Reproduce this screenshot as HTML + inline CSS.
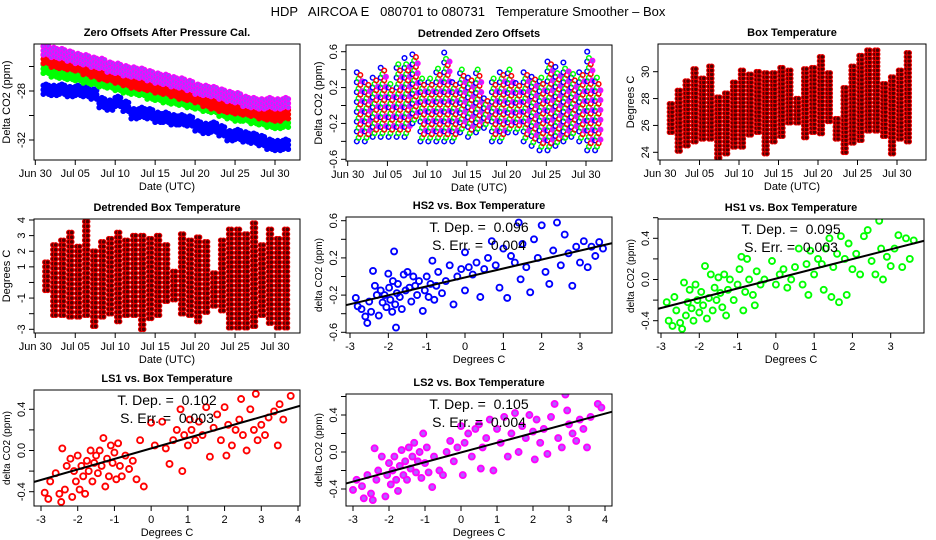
<!DOCTYPE html>
<html><head><meta charset="utf-8"><style>
html,body{margin:0;padding:0;background:#fff;}
svg{display:block;font-family:"Liberation Sans",sans-serif;}
text{white-space:pre;}
</style></head><body>
<svg id="chart" width="936" height="540" viewBox="0 0 936 540" xmlns="http://www.w3.org/2000/svg">
<rect width="936" height="540" fill="#fff"/>
<text x="468" y="16" font-size="13" text-anchor="middle" xml:space="preserve">HDP   AIRCOA E   080701 to 080731   Temperature Smoother – Box</text>
<g id="layer"></g>
</svg>
<script>
// ---------- DATA ----------
const dateTicks = [0,5,10,15,20,25,30];
const dateTickLabels = ["Jun 30","Jul 05","Jul 10","Jul 15","Jul 20","Jul 25","Jul 30"];
const days = [1,2,3,4,5,6,7,8,9,10,11,12,13,14,15,16,17,18,19,20,21,22,23,24,25,26,27,28,29,30,31];

const zeroBlue   = [-27.9,-28.0,-27.9,-28.1,-28.0,-28.1,-28.3,-29.0,-29.2,-28.9,-29.3,-29.9,-29.8,-29.9,-30.2,-30.2,-30.4,-30.4,-30.5,-30.9,-31.1,-31.0,-31.3,-31.7,-31.6,-31.8,-31.9,-32.1,-32.4,-32.5,-32.4];
const zeroGreen  = [-26.2,-26.5,-26.6,-26.7,-26.8,-27.0,-27.1,-27.3,-27.4,-27.6,-27.8,-27.9,-28.0,-28.3,-28.4,-28.6,-28.7,-28.8,-29.0,-29.1,-29.3,-29.4,-29.7,-29.9,-30.1,-30.1,-30.3,-30.4,-30.6,-30.7,-30.6];
const zeroRed    = [-25.4,-25.7,-25.8,-25.9,-26.0,-26.3,-26.5,-26.7,-26.8,-27.0,-27.2,-27.4,-27.5,-27.6,-27.8,-27.9,-28.1,-28.3,-28.4,-28.6,-28.9,-29.1,-29.3,-29.4,-29.5,-29.6,-29.7,-29.9,-30.0,-30.1,-29.9];
const zeroPurple = [-24.7,-24.9,-25.0,-25.2,-25.4,-25.5,-25.7,-25.8,-26.1,-26.2,-26.4,-26.5,-26.6,-26.8,-27.0,-27.1,-27.3,-27.4,-27.6,-27.9,-28.0,-28.1,-28.3,-28.5,-28.6,-28.9,-29.0,-29.1,-29.0,-29.1,-29.0];

const detMin = [-0.4,-0.4,-0.35,-0.35,-0.35,-0.35,-0.35,-0.2,-0.4,-0.4,-0.4,-0.4,-0.4,-0.3,-0.35,-0.3,-0.25,-0.4,-0.4,-0.3,-0.3,-0.4,-0.45,-0.5,-0.5,-0.45,-0.4,-0.35,-0.4,-0.5,-0.5];
const detMax = [0.4,0.3,0.35,0.45,0.3,0.5,0.55,0.6,0.35,0.35,0.45,0.6,0.3,0.45,0.35,0.45,0.15,0.35,0.4,0.45,0.3,0.4,0.35,0.35,0.55,0.45,0.5,0.4,0.4,0.6,0.35];

const boxMin = [25.5,24.1,24.5,24.8,25.0,25.0,23.6,23.9,24.4,24.4,25.3,25.5,23.9,24.8,25.2,26.2,26.2,25.1,25.5,25.4,26.3,25.0,24.0,24.7,24.9,25.6,25.6,25.2,23.9,25.0,24.8];
const boxMax = [27.7,28.8,29.5,30.5,29.6,30.5,28.4,28.7,29.4,30.2,30.0,30.3,30.1,30.0,30.5,30.4,28.2,30.3,30.5,31.2,30.0,26.8,28.9,30.7,31.3,31.8,31.7,29.3,29.8,30.3,31.6];

const dBoxMin = [-0.5,-2.1,-2.1,-2.2,-2.2,-2.1,-2.8,-2.2,-2.0,-2.5,-2.1,-2.1,-3.0,-2.3,-2.1,-1.2,-1.1,-2.0,-2.1,-2.5,-1.9,-1.5,-1.8,-2.9,-2.9,-2.9,-2.8,-2.1,-2.6,-2.9,-2.9];
const dBoxMax = [1.3,2.5,2.9,3.4,2.4,3.9,2.0,2.6,3.0,3.2,2.7,3.1,3.1,2.9,3.0,2.6,0.9,3.2,2.7,3.1,2.6,0.9,2.8,3.5,3.4,3.2,3.8,2.6,3.6,3.0,3.5];

const hs2Pts = [[-2.85,-0.23],[-2.8,-0.32],[-2.7,-0.35],[-2.6,-0.43],[-2.55,-0.5],[-2.5,-0.27],[-2.45,-0.38],[-2.4,0.06],[-2.35,-0.1],[-2.3,-0.2],[-2.25,-0.42],[-2.2,-0.15],[-2.15,-0.28],[-2.1,-0.2],[-2.05,-0.33],[-2.0,0.03],[-1.98,-0.12],[-1.95,-0.25],[-1.9,-0.38],[-1.88,-0.05],[-1.85,0.27],[-1.82,-0.3],[-1.8,-0.55],[-1.78,-0.18],[-1.75,-0.08],[-1.7,-0.22],[-1.65,-0.35],[-1.6,0.02],[-1.55,-0.15],[-1.5,0.05],[-1.45,-0.12],[-1.4,-0.27],[-1.35,0.0],[-1.3,-0.1],[-1.25,-0.2],[-1.2,-0.05],[-1.1,-0.37],[-1.05,-0.15],[-1.0,0.0],[-0.95,-0.22],[-0.9,-0.08],[-0.85,0.17],[-0.8,-0.25],[-0.75,-0.1],[-0.7,0.05],[-0.6,-0.18],[-0.5,-0.05],[-0.4,0.12],[-0.3,-0.3],[-0.2,0.0],[-0.1,0.08],[0.0,0.26],[0.0,-0.15],[0.1,0.1],[0.2,0.02],[0.3,0.15],[0.4,-0.22],[0.5,0.08],[0.6,0.2],[0.7,0.38],[0.8,0.12],[0.9,-0.12],[1.0,0.3],[1.1,-0.23],[1.2,0.22],[1.3,0.15],[1.4,0.58],[1.45,-0.03],[1.5,0.35],[1.6,0.1],[1.7,-0.17],[1.8,0.4],[1.9,0.2],[2.0,0.55],[2.1,0.05],[2.2,-0.08],[2.3,0.28],[2.4,0.58],[2.5,0.12],[2.6,0.45],[2.7,0.25],[2.8,-0.1],[2.9,0.32],[3.0,0.15],[3.1,0.38],[3.2,0.1],[3.3,0.32],[3.4,0.22],[3.5,0.37],[3.6,0.3]];
const hs1Pts = [[-2.85,-0.22],[-2.8,-0.4],[-2.7,-0.45],[-2.65,-0.17],[-2.6,-0.3],[-2.5,-0.42],[-2.45,-0.48],[-2.4,-0.03],[-2.35,-0.35],[-2.3,-0.22],[-2.25,-0.1],[-2.2,-0.28],[-2.15,-0.4],[-2.1,-0.05],[-2.05,-0.2],[-2.0,-0.32],[-1.95,-0.12],[-1.9,-0.25],[-1.85,0.13],[-1.8,-0.38],[-1.75,-0.18],[-1.7,0.05],[-1.65,-0.3],[-1.6,-0.08],[-1.55,-0.2],[-1.5,0.02],[-1.45,-0.13],[-1.4,-0.27],[-1.35,0.05],[-1.3,-0.35],[-1.25,-0.1],[-1.2,0.0],[-1.1,-0.2],[-1.0,-0.05],[-0.95,0.1],[-0.9,0.22],[-0.85,-0.3],[-0.8,-0.12],[-0.75,0.2],[-0.7,0.0],[-0.6,-0.15],[-0.55,-0.25],[-0.5,0.08],[-0.4,-0.05],[-0.3,0.0],[-0.1,0.18],[0.0,-0.05],[0.1,0.05],[0.2,0.1],[0.3,-0.08],[0.4,0.0],[0.5,0.12],[0.6,0.3],[0.7,-0.05],[0.8,0.15],[0.85,-0.15],[0.9,0.28],[1.0,0.05],[1.1,0.2],[1.2,0.15],[1.25,-0.1],[1.3,0.3],[1.4,0.4],[1.45,-0.17],[1.5,0.12],[1.6,0.25],[1.65,-0.22],[1.7,0.42],[1.8,0.2],[1.85,-0.15],[1.9,0.35],[2.0,0.1],[2.1,0.25],[2.2,0.05],[2.3,0.42],[2.4,0.48],[2.5,0.18],[2.6,0.05],[2.7,0.57],[2.75,0.3],[2.8,0.0],[2.9,0.22],[3.0,0.13],[3.1,0.3],[3.2,0.43],[3.3,0.12],[3.4,0.4],[3.5,0.2],[3.6,0.38]];
const ls1Pts = [[-2.9,-0.41],[-2.8,-0.47],[-2.75,-0.3],[-2.6,-0.22],[-2.5,-0.42],[-2.45,-0.5],[-2.42,0.02],[-2.35,-0.38],[-2.3,-0.15],[-2.2,-0.08],[-2.15,-0.45],[-2.1,-0.2],[-2.05,-0.3],[-2.0,-0.05],[-1.95,-0.38],[-1.9,-0.15],[-1.85,-0.25],[-1.8,-0.42],[-1.75,-0.1],[-1.7,-0.2],[-1.65,0.0],[-1.6,-0.3],[-1.55,-0.12],[-1.5,-0.05],[-1.45,-0.22],[-1.4,0.0],[-1.35,-0.15],[-1.3,0.12],[-1.25,-0.35],[-1.2,-0.08],[-1.15,-0.25],[-1.1,0.05],[-1.05,-0.12],[-1.0,-0.02],[-0.95,-0.28],[-0.9,0.07],[-0.85,-0.15],[-0.8,-0.25],[-0.7,-0.05],[-0.6,-0.18],[-0.5,-0.1],[-0.4,-0.28],[-0.3,0.1],[-0.2,-0.35],[0.0,0.27],[0.1,0.05],[0.3,0.28],[0.4,0.02],[0.5,-0.13],[0.6,0.1],[0.7,0.2],[0.8,0.4],[0.85,-0.2],[0.9,0.15],[1.0,0.05],[1.05,0.3],[1.1,0.2],[1.2,0.1],[1.3,0.28],[1.4,0.15],[1.5,0.42],[1.6,-0.06],[1.7,0.22],[1.8,0.35],[1.9,0.1],[2.0,0.42],[2.05,-0.05],[2.1,0.25],[2.2,0.05],[2.3,0.2],[2.4,0.3],[2.45,0.5],[2.5,0.15],[2.6,0.0],[2.7,0.4],[2.8,0.2],[2.85,0.55],[2.9,0.1],[3.0,0.25],[3.1,0.15],[3.2,0.32],[3.35,0.38],[3.45,0.05],[3.5,0.45],[3.6,0.3],[3.8,0.53]];
const ls2Pts = [[-3.0,-0.41],[-2.9,-0.3],[-2.75,-0.37],[-2.7,-0.5],[-2.6,-0.25],[-2.5,-0.45],[-2.45,-0.52],[-2.4,0.04],[-2.35,-0.3],[-2.3,-0.2],[-2.2,-0.05],[-2.1,-0.48],[-2.05,-0.25],[-2.0,-0.12],[-1.95,-0.35],[-1.9,-0.2],[-1.85,-0.05],[-1.8,-0.3],[-1.75,-0.42],[-1.7,-0.15],[-1.65,0.02],[-1.6,-0.25],[-1.55,-0.1],[-1.5,-0.3],[-1.45,0.05],[-1.4,-0.18],[-1.35,-0.05],[-1.3,0.1],[-1.25,-0.22],[-1.2,-0.1],[-1.15,0.0],[-1.1,-0.28],[-1.05,0.2],[-1.0,-0.12],[-0.95,0.05],[-0.9,-0.22],[-0.8,-0.38],[-0.75,-0.05],[-0.6,-0.2],[-0.5,-0.25],[-0.4,0.0],[-0.3,0.12],[-0.2,-0.1],[-0.1,0.05],[0.0,0.28],[0.05,-0.25],[0.1,0.1],[0.2,0.2],[0.3,-0.05],[0.4,0.25],[0.5,0.3],[0.55,-0.18],[0.6,0.05],[0.7,0.15],[0.8,0.35],[0.9,-0.2],[1.0,0.25],[1.1,0.1],[1.2,0.38],[1.3,-0.05],[1.4,0.2],[1.5,0.42],[1.6,0.0],[1.7,0.28],[1.8,0.15],[1.9,0.4],[2.0,0.22],[2.05,-0.08],[2.1,0.35],[2.2,0.1],[2.3,0.25],[2.4,-0.02],[2.5,0.38],[2.6,0.52],[2.7,0.15],[2.8,0.05],[2.9,0.62],[2.95,0.45],[3.0,0.3],[3.1,0.2],[3.2,0.12],[3.3,0.35],[3.4,0.25],[3.5,0.05],[3.6,0.38],[3.8,0.52],[3.9,0.48]];

const hs2Fit = [-0.01, 0.096];
const hs1Fit = [0.008, 0.095];
const ls1Fit = [0.02, 0.102];
const ls2Fit = [-0.005, 0.105];
const fitLabels = ["0.096","0.004","0.095","0.003","0.102","0.003","0.105","0.004"];

// ---------- RENDER ----------
const NS = "http://www.w3.org/2000/svg";
const layer = document.getElementById('layer');
function mk(tag, attrs, parent){ const e=document.createElementNS(NS,tag); for(const k in attrs) e.setAttribute(k,attrs[k]); (parent||layer).appendChild(e); return e; }
function lin(v0,p0,v1,p1){ return v=> p0+(v-v0)*(p1-p0)/(v1-v0); }

function panel(cfg){
  const g = mk('g',{});
  
  
  const b=cfg.box;
  const t=mk('text',{x:(b[0]+b[2])/2,y:b[1]-8,'font-size':11,'font-weight':'bold','text-anchor':'middle'},g);
    t.textContent=cfg.title;
  const cid='c'+cfg.name; const cp=mk('clipPath',{id:cid},g); mk('rect',{x:b[0],y:b[1],width:b[2]-b[0],height:b[3]-b[1]},cp);
  const marks=mk('g',{'clip-path':'url(#'+cid+')'},g);
   
  const xa=mk('g',{},g);  
  const xt=cfg.xTicks; const x0=cfg.sx(xt[0]), x1=cfg.sx(xt[xt.length-1]);
  mk('line',{x1:x0,x2:x1,y1:b[3],y2:b[3],stroke:'#000'},xa);
  xt.forEach((v,i)=>{ const x=cfg.sx(v); mk('line',{x1:x,x2:x,y1:b[3],y2:b[3]+5,stroke:'#000'},xa);
    const l=mk('text',{x:x,y:b[3]+17,'font-size':11,'text-anchor':'middle'},xa);
      l.textContent=cfg.xLabels[i]; });
  const xl=mk('text',{x:(b[0]+b[2])/2,y:b[3]+30,'font-size':11,'text-anchor':'middle'},xa);
    xl.textContent=cfg.xTitle;
  const ya=mk('g',{},g);  
  const yt=cfg.yTicks; const y0=cfg.sy(yt[0]), y1=cfg.sy(yt[yt.length-1]);
  mk('line',{x1:b[0],x2:b[0],y1:y0,y2:y1,stroke:'#000'},ya);
  yt.forEach((v,i)=>{ const y=cfg.sy(v); mk('line',{x1:b[0]-5,x2:b[0],y1:y,y2:y,stroke:'#000'},ya);
    if(cfg.yLabels[i]!==''){ const l=mk('text',{x:b[0]-9,y:y,'font-size':11,'text-anchor':'middle',transform:`rotate(-90 ${b[0]-9} ${y})`},ya);
      l.textContent=cfg.yLabels[i]; }});
  const yx=b[0]-24, ymid=(b[1]+b[3])/2;
  const yl=mk('text',{x:yx,y:ymid,'font-size':cfg.yTitleSize||11,'text-anchor':'middle',transform:`rotate(-90 ${yx} ${ymid})`},ya);
    yl.textContent=cfg.yTitle;
  mk('rect',{x:b[0],y:b[1],width:b[2]-b[0],height:b[3]-b[1],fill:'none',stroke:'#000'},g);
  return marks;
}
function dot(parent,x,y,stroke,fill,name,sw){ const c=mk('circle',{cx:x.toFixed(1),cy:y.toFixed(1),r:2.3,stroke:stroke,'stroke-width':sw||1.1,fill:fill},parent);
  
   return c; }

// Panel 1
(function(){
  const sx=lin(0,35.3,30,275), sy=lin(-28,91,-32,140);
  const m=panel({name:'zero-offsets-panel',title:'Zero Offsets After Pressure Cal.',box:[34,44,300,160],sx,sy,xTicks:dateTicks,xLabels:dateTickLabels,xTitle:'Date (UTC)',yTicks:[-26,-28,-30,-32],yLabels:['','-28','','-32'],yTitle:'Delta CO2 (ppm)'});
  const series=[[zeroBlue,'#0000ff','#0000ff','zero-hs2-point'],[zeroGreen,'#00ff00','#00ff00','zero-hs1-point'],[zeroRed,'#ff0000','#ff0000','zero-ls1-point'],[zeroPurple,'#ff00ff','#a040ff','zero-ls2-point']];
  series.forEach(s=>{ s[0].forEach((v,i)=>{ for(let k=0;k<3;k++) for(const o of [-0.35,0,0.35]) dot(m,sx(days[i]+k/3),sy(v+o+(k===1?0.1:0)),s[1],s[2],s[3]); }); });
})();
// Panel 2
(function(){
  const sx=lin(0,347.7,30,586), sy=lin(0.6,51.7,-0.6,159.3);
  const m=panel({name:'detrended-zero-offsets-panel',title:'Detrended Zero Offsets',box:[346,45,612,161],sx,sy,xTicks:dateTicks,xLabels:dateTickLabels,xTitle:'Date (UTC)',yTicks:[0.6,0.4,0.2,0,-0.2,-0.4,-0.6],yLabels:['0.6','','0.2','','-0.2','','-0.6'],yTitle:'Delta CO2 (ppm)'});
  const cols=[['#0000ff','none'],['#00ff00','none'],['#ff0000','none'],['#ff00ff','#a040ff']];
  days.forEach((d,i)=>{ cols.forEach((c,s)=>{ for(let v=detMin[i]+s*0.04; v<=detMax[i]-s*0.03; v+=0.11) dot(m,sx(d+0.15+s*0.22),sy(v),c[0],c[1],'detrended-offset-point',1.5); }); });
})();
// Panel 3
(function(){
  const sx=lin(0,660,30,897), sy=lin(30,71.7,24,152.3);
  const m=panel({name:'box-temperature-panel',title:'Box Temperature',box:[658,44,926,160],sx,sy,xTicks:dateTicks,xLabels:dateTickLabels,xTitle:'Date (UTC)',yTicks:[24,26,28,30],yLabels:['24','26','28','30'],yTitle:'Degrees C'});
  days.forEach((d,i)=>{ for(const k of [0.2,0.55]) for(let v=boxMin[i]; v<=boxMax[i]; v+=0.3) dot(m,sx(d+k),sy(v),'#e80000','#500000','box-temp-point',1.1); });
})();
// Panel 4
(function(){
  const sx=lin(0,35.3,30,275), sy=lin(4,220,-3,329.3);
  const m=panel({name:'detrended-box-temperature-panel',title:'Detrended Box Temperature',box:[34,219,300,333],sx,sy,xTicks:dateTicks,xLabels:dateTickLabels,xTitle:'Date (UTC)',yTicks:[-3,-2,-1,0,1,2,3,4],yLabels:['-3','','-1','','1','2','3','4'],yTitle:'Degrees C'});
  days.forEach((d,i)=>{ for(const k of [0.2,0.55]) for(let v=dBoxMin[i]; v<=dBoxMax[i]; v+=0.3) dot(m,sx(d+k),sy(v),'#e80000','#500000','detrended-temp-point',1.1); });
})();
// Scatter panels
function scatter(cfg){
  const m=panel(cfg);
  cfg.pts.forEach(p=>{ const c=mk('circle',{cx:cfg.sx(p[0]).toFixed(1),cy:cfg.sy(p[1]).toFixed(1),r:3,stroke:cfg.color,'stroke-width':1.9,fill:cfg.fill||'none'},m);
    
     });
  const xa=-4, xb=5;
  const ln=mk('line',{x1:cfg.sx(xa),y1:cfg.sy(cfg.fit[0]+cfg.fit[1]*xa),x2:cfg.sx(xb),y2:cfg.sy(cfg.fit[0]+cfg.fit[1]*xb),stroke:'#000','stroke-width':2},m);
  
  
  const b=cfg.box, cx=(b[0]+b[2])/2;
  const t1=mk('text',{x:cx,y:b[1]+15,'font-size':14,'text-anchor':'middle'});
   
  t1.textContent='T. Dep. =  '+cfg.lab[0];
  const t2=mk('text',{x:cx,y:b[1]+33,'font-size':14,'text-anchor':'middle'});
   
  t2.textContent='S. Err. =  '+cfg.lab[1];
}
const cTicks7=[-3,-2,-1,0,1,2,3,4], cLab7=['-3','-2','-1','0','1','2','3','4'];
const cTicks6=[-3,-2,-1,0,1,2,3], cLab6=['-3','-2','-1','0','1','2','3'];
scatter({name:'hs2-vs-temp-panel',title:'HS2 vs. Box Temperature',box:[346,217,612,333],sx:lin(-3,350,3,580),sy:lin(0.6,220.7,-0.6,332.3),xTicks:cTicks6,xLabels:cLab6,xTitle:'Degrees C',yTicks:[0.6,0.4,0.2,0,-0.2,-0.4,-0.6],yLabels:['0.6','','0.2','','-0.2','','-0.6'],yTitle:'delta CO2 (ppm)',yTitleSize:10,pts:hs2Pts,fit:hs2Fit,color:'#0000ff',lab:[fitLabels[0],fitLabels[1]]});
scatter({name:'hs1-vs-temp-panel',title:'HS1 vs. Box Temperature',box:[658,219,924,333],sx:lin(-3,661,3,890.7),sy:lin(0.4,238.3,-0.4,320.7),xTicks:cTicks6,xLabels:cLab6,xTitle:'Degrees C',yTicks:[0.6,0.4,0.2,0,-0.2,-0.4],yLabels:['','0.4','','0.0','','-0.4'],yTitle:'delta CO2 (ppm)',yTitleSize:10,pts:hs1Pts,fit:hs1Fit,color:'#00ff00',lab:[fitLabels[2],fitLabels[3]]});
scatter({name:'ls1-vs-temp-panel',title:'LS1 vs. Box Temperature',box:[34,390,300,506],sx:lin(-3,41,4,298),sy:lin(0.4,409.3,-0.4,491.7),xTicks:cTicks7,xLabels:cLab7,xTitle:'Degrees C',yTicks:[0.4,0.2,0,-0.2,-0.4],yLabels:['0.4','','0.0','','-0.4'],yTitle:'delta CO2 (ppm)',yTitleSize:10,pts:ls1Pts,fit:ls1Fit,color:'#ff0000',lab:[fitLabels[4],fitLabels[5]]});
scatter({name:'ls2-vs-temp-panel',title:'LS2 vs. Box Temperature',box:[346,394,612,506],sx:lin(-3,353,4,605),sy:lin(0.4,415,-0.4,489),xTicks:cTicks7,xLabels:cLab7,xTitle:'Degrees C',yTicks:[0.6,0.4,0.2,0,-0.2,-0.4],yLabels:['','0.4','','0.0','','-0.4'],yTitle:'delta CO2 (ppm)',yTitleSize:10,pts:ls2Pts,fit:ls2Fit,color:'#ff00ff',fill:'#b060ff',lab:[fitLabels[6],fitLabels[7]]});
</script>
</body></html>
